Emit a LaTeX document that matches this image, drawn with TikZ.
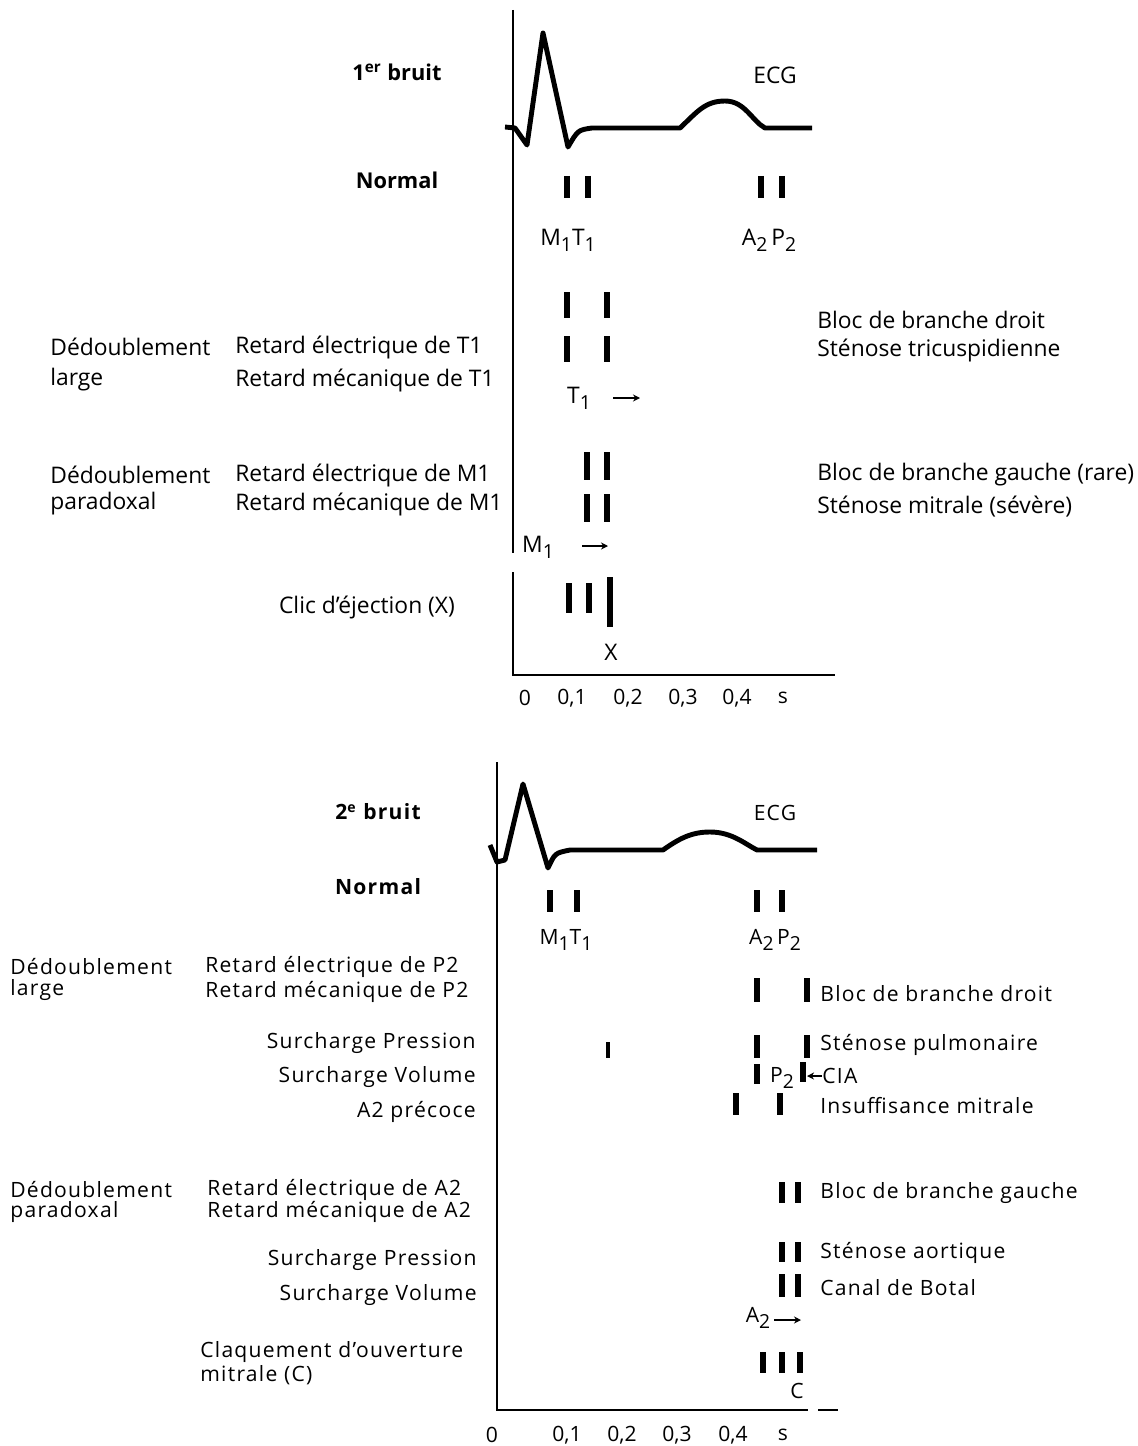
\documentclass[tikz,border=0pt]{standalone}
\usepackage{fontspec}
\setmainfont{Open Sans}
\newfontfamily\widefont[LetterSpace=6]{Open Sans}
\usetikzlibrary{arrows.meta,positioning}
\newcommand{\lowidx}[1]{\raisebox{-0.5ex}{\fontsize{11}{13}\selectfont #1}}

\begin{document}
\begin{tikzpicture}[x=0.02cm, y=-0.02cm,
  txt/.style={inner sep=0pt, font=\fontsize{13}{15}\selectfont},
  lefttxt/.style={txt, anchor=west},
  head/.style={inner sep=0pt, font=\fontsize{12.4}{15}\selectfont\bfseries},
  tick/.style={inner sep=0pt, font=\fontsize{12}{14}\selectfont},
  btxt/.style={inner sep=0pt, font=\widefont\fontsize{12}{14}\selectfont},
  bleft/.style={btxt, anchor=west},
  bright/.style={btxt, anchor=east},
  bhead/.style={inner sep=0pt, font=\widefont\fontsize{12}{14}\selectfont\bfseries},
  beat/.style={line width=3.4pt},
  thinbeat/.style={line width=2pt},
  axis/.style={line width=1.6pt},
  ecg/.style={line width=2.8pt, line join=round},
  delayarrow/.style={-{Stealth[length=4pt,width=4pt]}, line width=1pt}
]
  \useasboundingbox (0,0) rectangle (1137,1446);

  % first sound
  \draw[axis] (513,10) -- (513,553);
  \draw[axis] (513,572) -- (513,675) -- (835,675);
  \draw[ecg] (505,127) -- (515,128) -- (527,145) -- (543,33) -- (568,147) .. controls (578,130) .. (592,128) -- (680,128)
    .. controls (697,112) and (705,101) .. (725,101) .. controls (745,101) and (752,121) .. (765,128) -- (812,128);
  \node[head] (head1) at (397,72) {1\textsuperscript{er} bruit};
  \node[txt] (ecg1) at (775,75) {ECG};
  \node[head] (normal1) at (397,180) {Normal};
  \draw[beat] (567,176) -- (567,198);
  \draw[beat] (588,176) -- (588,198);
  \draw[beat] (761,176) -- (761,198);
  \draw[beat] (782,176) -- (782,198);
  \node[txt] (mt1) at (568,240) {M\lowidx{1}T\lowidx{1}};
  \node[txt] (ap1) at (769,240) {A\lowidx{2}\,P\lowidx{2}};

  \node[lefttxt] (ddl1) at (50,347) {Dédoublement};
  \node[lefttxt] (large1) at (50,380) {large};
  \node[lefttxt] (relT) at (235,347) {Retard électrique de T1};
  \node[lefttxt] (rmecT) at (235,380) {Retard mécanique de T1};
  \node[lefttxt] (bbd1) at (817,320) {Bloc de branche droit};
  \node[lefttxt] (stt) at (817,350) {Sténose tricuspidienne};
  \draw[beat] (567,292) -- (567,318);
  \draw[beat] (607,292) -- (607,318);
  \draw[beat] (567,336) -- (567,362);
  \draw[beat] (607,336) -- (607,362);
  \node[txt] (tlate) at (579,398) {T\lowidx{1}};
  \coordinate (tgo) at (613,398);
  \coordinate (tend) at (640,398);
  \draw[delayarrow] (tgo) -- (tend);

  \node[lefttxt] (ddp1) at (50,475) {Dédoublement};
  \node[lefttxt] (parad1) at (50,504) {paradoxal};
  \node[lefttxt] (relM) at (235,475) {Retard électrique de M1};
  \node[lefttxt] (rmecM) at (235,504) {Retard mécanique de M1};
  \node[lefttxt] (bbg1) at (817,475) {Bloc de branche gauche (rare)};
  \node[lefttxt] (stm) at (817,507) {Sténose mitrale (sévère)};
  \draw[beat] (587,452) -- (587,480);
  \draw[beat] (607,452) -- (607,480);
  \draw[beat] (587,494) -- (587,522);
  \draw[beat] (607,494) -- (607,522);
  \node[txt] (mlate) at (538,547) {M\lowidx{1}};
  \coordinate (mgo) at (582,546);
  \coordinate (mend) at (608,546);
  \draw[delayarrow] (mgo) -- (mend);

  \node[txt] (clic) at (367,607) {Clic d’éjection (X)};
  \draw[beat] (569,583) -- (569,613);
  \draw[beat] (589,583) -- (589,613);
  \draw[beat] (610,577) -- (610,627);
  \node[txt] (xlbl) at (611,652) {X};

  \foreach \t/\x [count=\i] in {0/525, {0,1}/572, {0,2}/628, {0,3}/683, {0,4}/737, s/783}
    \node[tick] (tickA\i) at (\x,698) {\t};

  % second sound
  \draw[axis, line width=1.3pt] (497,762) -- (497,1410) -- (808,1410);
  \draw[axis, line width=1.3pt] (818,1410) -- (838,1410);
  \draw[ecg] (490,845) -- (497,862) -- (505,860) -- (523,784) -- (548,868) .. controls (555,853) .. (570,850) -- (663,850)
    .. controls (680,838) and (692,832) .. (710,832) .. controls (732,832) and (745,844) .. (757,850) -- (817,850);
  \node[bhead] (head2) at (378,812) {2\textsuperscript{e} bruit};
  \node[btxt] (ecg2) at (775,813) {ECG};
  \node[bhead] (normal2) at (378,887) {Normal};
  \draw[beat] (550,890) -- (550,912);
  \draw[beat] (577,890) -- (577,912);
  \draw[beat] (757,890) -- (757,912);
  \draw[beat] (782,890) -- (782,912);
  \node[btxt] (mt2) at (566,940) {M\lowidx{1}T\lowidx{1}};
  \node[btxt] (ap2) at (775,940) {A\lowidx{2}\,P\lowidx{2}};

  \node[bleft] (ddl2) at (10,967) {Dédoublement};
  \node[bleft] (large2) at (10,990) {large};
  \node[bleft] (relP) at (205,967) {Retard électrique de P2};
  \node[bleft] (rmecP) at (205,992) {Retard mécanique de P2};
  \draw[beat] (757,978) -- (757,1002);
  \draw[beat] (807,978) -- (807,1002);
  \node[bleft] (bbd2) at (820,994) {Bloc de branche droit};

  \node[bright] (spr1) at (476,1043) {Surcharge Pression};
  \draw[thinbeat] (608,1042) -- (608,1058);
  \draw[beat] (757,1035) -- (757,1058);
  \draw[beat] (807,1035) -- (807,1058);
  \node[bleft] (stp) at (820,1045) {Sténose pulmonaire};

  \node[bright] (svo1) at (476,1077) {Surcharge Volume};
  \draw[beat] (757,1064) -- (757,1084);
  \draw[beat] (803,1062) -- (803,1082);
  \node[btxt] (plbl) at (782,1078) {P\lowidx{2}};
  \node[bleft] (cia) at (822,1076) {CIA};
  \coordinate (ciatip) at (807,1076);
  \draw[delayarrow] (cia.west) -- (ciatip);

  \node[bright] (a2p) at (476,1112) {A2 précoce};
  \draw[beat] (736,1093) -- (736,1115);
  \draw[beat] (780,1093) -- (780,1115);
  \node[bleft] (imi) at (820,1106) {Insuffisance mitrale};

  \node[bleft] (ddp2) at (10,1190) {Dédoublement};
  \node[bleft] (parad2) at (10,1212) {paradoxal};
  \node[bleft] (relA) at (207,1190) {Retard électrique de A2};
  \node[bleft] (rmecA) at (207,1212) {Retard mécanique de A2};
  \draw[beat] (782,1182) -- (782,1203);
  \draw[beat] (798,1182) -- (798,1203);
  \node[bleft] (bbg2) at (820,1193) {Bloc de branche gauche};

  \node[bright] (spr2) at (477,1260) {Surcharge Pression};
  \draw[beat] (782,1242) -- (782,1262);
  \draw[beat] (798,1242) -- (798,1262);
  \node[bleft] (sta) at (820,1253) {Sténose aortique};

  \node[bright] (svo2) at (477,1295) {Surcharge Volume};
  \draw[beat] (782,1274) -- (782,1297);
  \draw[beat] (798,1274) -- (798,1297);
  \node[bleft] (cbo) at (820,1288) {Canal de Botal};

  \node[btxt] (alate) at (758,1318) {A\lowidx{2}};
  \coordinate (ago) at (774,1320);
  \coordinate (aend) at (801,1320);
  \draw[delayarrow] (ago) -- (aend);

  \node[bleft] (clq) at (200,1352) {Claquement d’ouverture};
  \node[bleft] (mitc) at (200,1375) {mitrale (C)};
  \draw[beat] (763,1352) -- (763,1373);
  \draw[beat] (782,1352) -- (782,1373);
  \draw[beat] (800,1352) -- (800,1373);
  \node[btxt] (clbl) at (797,1391) {C};

  \foreach \t/\x [count=\i] in {0/492, {0,1}/567, {0,2}/622, {0,3}/677, {0,4}/733, s/783}
    \node[tick] (tickB\i) at (\x,1435) {\t};
\end{tikzpicture}
\end{document}
